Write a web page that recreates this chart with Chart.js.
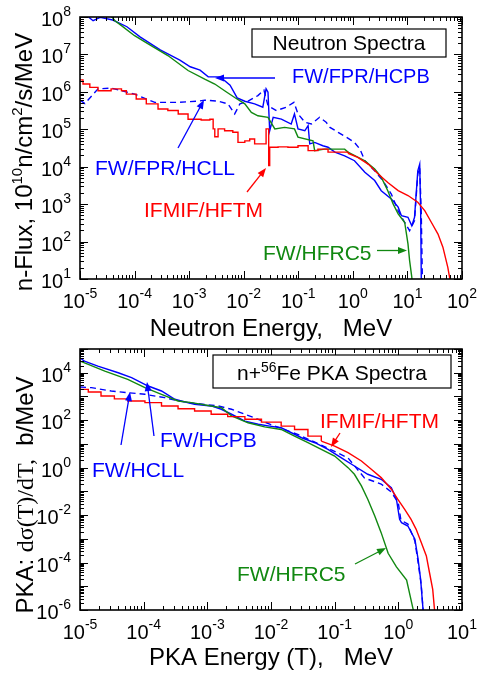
<!DOCTYPE html>
<html>
<head>
<meta charset="utf-8">
<script src="https://cdn.jsdelivr.net/npm/chart.js@4/dist/chart.umd.min.js"></script>
<style>
html, body { margin: 0; padding: 0; background: #fff; }
canvas { display: block; position: absolute; left: 0; }
#neutron { top: 0; }
#pka { top: 330px; }
</style>
</head>
<body>
<canvas id="neutron" width="480" height="346"></canvas>
<canvas id="pka" width="480" height="346"></canvas>
<script>
// values as [log10(energy), log10(value)]
const neutronHCPB = [[-5, 8.05], [-4.87, 8.03], [-4.76, 7.90], [-4.63, 7.99], [-4.40, 7.92], [-4.14, 7.74],
    [-3.90, 7.47], [-3.53, 7.12], [-3.17, 6.85], [-2.98, 6.67], [-2.80, 6.58], [-2.65, 6.40], [-2.43, 6.40],
    [-2.25, 6.18], [-2.12, 5.84], [-1.98, 5.75], [-1.80, 5.68], [-1.65, 5.59], [-1.59, 6.08], [-1.555, 5.99],
    [-1.524, 4.96], [-1.46, 5.32], [-1.31, 5.27], [-1.13, 5.14], [-1.07, 5.41], [-1.005, 5.01], [-0.88, 4.96],
    [-0.82, 5.10], [-0.79, 4.61], [-0.70, 4.65], [-0.55, 4.56], [-0.455, 4.52], [-0.33, 4.39], [-0.15, 4.29],
    [0.03, 4.16], [0.22, 3.85], [0.40, 3.63], [0.52, 3.36], [0.705, 3.14], [0.83, 2.92], [0.89, 2.69],
    [1.01, 2.65], [1.08, 2.42], [1.13, 2.65], [1.19, 3.89], [1.225, 4.07], [1.243, 2.74], [1.254, 1.0], [1.26, 0.5]];
const neutronHCLL = [[-5, 5.78], [-4.91, 5.69], [-4.67, 6.08], [-4.43, 6.10], [-4.00, 5.94], [-3.63, 5.72],
    [-3.20, 5.72], [-2.84, 5.75], [-2.715, 5.78], [-2.47, 5.75], [-2.29, 5.68], [-2.165, 5.41], [-2.07, 5.68],
    [-1.92, 5.75], [-1.74, 5.90], [-1.63, 6.05], [-1.555, 5.63], [-1.40, 5.50], [-1.22, 5.59], [-1.08, 5.72],
    [-1.005, 5.41], [-0.88, 5.19], [-0.76, 5.14], [-0.61, 5.32], [-0.49, 5.19], [-0.42, 5.05], [-0.27, 4.92],
    [-0.12, 4.79], [0.03, 4.65], [0.13, 4.47], [0.22, 4.16], [0.40, 3.89], [0.55, 3.63], [0.705, 3.27],
    [0.83, 2.82], [0.95, 2.51], [1.04, 2.29], [1.13, 2.56], [1.19, 3.81], [1.225, 3.98], [1.254, 2.74],
    [1.273, 1.05], [1.28, 0.5]];
const neutronHFRC5 = [[-5, 8.5], [-4.414, 8.0], [-4.36, 7.90], [-4.24, 7.77], [-4.00, 7.50], [-3.69, 7.23],
    [-3.39, 6.97], [-3.02, 6.57], [-2.715, 6.34], [-2.53, 6.21], [-2.35, 6.03], [-2.165, 5.85], [-1.98, 5.68],
    [-1.86, 5.45], [-1.74, 5.36], [-1.555, 5.32], [-1.43, 5.01], [-1.25, 5.05], [-1.07, 5.01], [-1.005, 4.79],
    [-0.73, 4.69], [-0.70, 4.43], [-0.52, 4.47], [-0.15, 4.47], [-0.09, 4.39], [0.22, 4.16], [0.40, 3.94],
    [0.52, 3.72], [0.64, 3.36], [0.74, 3.00], [0.83, 2.74], [0.95, 2.51], [1.01, 1.94], [1.04, 1.49],
    [1.08, 1.05], [1.10, 0.5]];
const neutronHFTM = [[-5, 6.32], [-4.945, 6.21], [-4.82, 6.12], [-4.67, 6.03], [-4.43, 6.08], [-4.24, 6.03],
    [-4.15, 5.94], [-3.97, 5.81], [-3.785, 5.68], [-3.57, 5.54], [-3.39, 5.50], [-3.20, 5.41], [-3.02, 5.27],
    [-2.78, 5.25], [-2.62, 5.27], [-2.56, 5.01], [-2.53, 4.80], [-2.47, 5.01], [-2.35, 4.96], [-2.20, 4.92],
    [-2.105, 4.65], [-1.98, 4.69], [-1.89, 4.74], [-1.80, 4.61], [-1.59, 5.01], [-1.555, 5.01], [-1.542, 4.03],
    [-1.524, 4.52], [-1.37, 4.53], [-1.19, 4.52], [-1.005, 4.56], [-0.82, 4.43], [-0.64, 4.47], [-0.455, 4.39],
    [-0.27, 4.39], [-0.09, 4.36], [0.09, 4.25], [0.28, 4.07], [0.46, 3.81], [0.64, 3.58], [0.83, 3.36],
    [1.01, 3.23], [1.19, 3.05], [1.32, 2.82], [1.44, 2.51], [1.56, 2.20], [1.65, 1.85], [1.74, 1.31], [1.79, 0.9]];

const pkaHCPB = [[-5, 4.62], [-4.93, 4.49], [-4.72, 4.28], [-4.40, 4.00], [-4.19, 3.79], [-3.93, 3.44],
    [-3.72, 3.23], [-3.51, 2.88], [-3.41, 2.81], [-3.20, 2.67], [-2.94, 2.60], [-2.78, 2.46], [-2.62, 2.25],
    [-2.41, 1.96], [-2.20, 1.83], [-2.02, 1.75], [-1.84, 1.68], [-1.52, 1.26], [-1.31, 1.05], [-1.105, 0.77],
    [-0.90, 0.42], [-0.69, 0.07], [-0.48, -0.28], [-0.27, -0.49], [-0.11, -0.85], [-0.03, -1.33], [0.02, -2.18],
    [0.05, -2.32], [0.15, -2.46], [0.26, -3.02], [0.31, -3.86], [0.35, -4.71], [0.39, -6.04], [0.40, -6.5]];
const pkaHCLL = [[-5, 3.40], [-4.82, 3.37], [-4.51, 3.23], [-4.25, 3.16], [-3.98, 3.09], [-3.67, 2.95],
    [-3.46, 2.81], [-3.20, 2.71], [-2.83, 2.60], [-2.62, 2.46], [-2.41, 2.25], [-2.26, 2.10], [-2.02, 1.83],
    [-1.58, 1.40], [-1.21, 0.95], [-0.79, 0.41], [-0.53, -0.44], [-0.27, -0.69], [-0.11, -1.03], [0.0, -1.49],
    [0.04, -2.21], [0.15, -2.38], [0.26, -3.09], [0.31, -3.98], [0.36, -4.95], [0.39, -6.04], [0.40, -6.5]];
const pkaHFRC5 = [[-5, 4.49], [-4.87, 4.35], [-4.61, 4.07], [-4.25, 3.72], [-3.98, 3.37], [-3.72, 3.09],
    [-3.46, 2.81], [-3.25, 2.74], [-2.94, 2.60], [-2.78, 2.53], [-2.62, 2.18], [-2.36, 1.89], [-2.10, 1.72],
    [-1.84, 1.61], [-1.63, 1.33], [-1.42, 1.05], [-1.21, 0.77], [-1.0, 0.49], [-0.79, 0.0], [-0.69, -0.28],
    [-0.58, -0.77], [-0.48, -1.33], [-0.37, -2.04], [-0.27, -2.74], [-0.16, -3.61], [-0.03, -4.18],
    [0.13, -4.74], [0.235, -6.0], [0.25, -6.5]];
const pkaHFTM = [[-5, 3.30], [-4.87, 3.19], [-4.67, 3.02], [-4.46, 2.90], [-4.25, 2.81], [-3.98, 2.74],
    [-3.72, 2.60], [-3.46, 2.48], [-3.20, 2.39], [-2.94, 2.25], [-2.68, 2.15], [-2.41, 2.04], [-2.15, 1.92],
    [-1.84, 1.75], [-1.63, 1.61], [-1.42, 1.33], [-1.21, 1.12], [-1.0, 0.91], [-0.79, 0.63], [-0.58, 0.28],
    [-0.425, -0.07], [-0.27, -0.42], [-0.11, -0.91], [-0.01, -1.33], [0.10, -1.76], [0.20, -2.18],
    [0.28, -2.60], [0.36, -3.16], [0.44, -3.72], [0.49, -4.43], [0.54, -5.13], [0.57, -6.04], [0.58, -6.5]];

// the red histograms are drawn as steps below these log energies, as a plain line above
const neutronStepEnd = -0.09;
const pkaStepEnd = -1.21;

// decade exponents that get a label
const neutronXExp = [-5, -4, -3, -2, -1, 0, 1, 2];
const neutronYExp = [1, 2, 3, 4, 5, 6, 7, 8];
const pkaXExp = [-5, -4, -3, -2, -1, 0, 1];
const pkaYExp = [-6, -4, -2, 0, 2, 4];

const SANS = '"Liberation Sans", Arial, Helvetica, sans-serif';
const SERIF = '"Liberation Serif", "Times New Roman", serif';
const BLUE = '#0000ff';
const GREEN = '#118811';
const RED = '#ff0000';

function toPoints(pairs) {
    return pairs.map(p => ({x: Math.pow(10, p[0]), y: Math.pow(10, p[1])}));
}

function lineSet(label, pairs, color, dashed, stepped) {
    return {
        label: label,
        data: toPoints(pairs),
        borderColor: color,
        borderWidth: 1.4,
        borderDash: dashed ? [6, 4] : [],
        pointRadius: 0,
        fill: false,
        tension: 0,
        stepped: stepped ? 'before' : false
    };
}

function histSets(label, pairs, cut) {
    return [
        lineSet(label, pairs.filter(p => p[0] <= cut), RED, false, true),
        lineSet(label, pairs.filter(p => p[0] >= cut), RED, false, false)
    ];
}

// parts: [text, size, raise, family]
function drawRich(ctx, parts, x, y, align) {
    let w = 0;
    parts.forEach(p => {
        ctx.font = p[1] + 'px ' + (p[3] || SANS);
        w += ctx.measureText(p[0]).width;
    });
    let cx = align === 'center' ? x - w / 2 : (align === 'right' ? x - w : x);
    ctx.textAlign = 'left';
    ctx.textBaseline = 'alphabetic';
    parts.forEach(p => {
        ctx.font = p[1] + 'px ' + (p[3] || SANS);
        ctx.fillText(p[0], cx, y - (p[2] || 0));
        cx += ctx.measureText(p[0]).width;
    });
}

function pow10(exp) {
    return [['10', 20, 0], [String(exp), 14, 10]];
}

function logTicks(scale) {
    const out = [];
    const e0 = Math.floor(Math.log10(scale.min) + 1e-9);
    const e1 = Math.ceil(Math.log10(scale.max) - 1e-9);
    for (let e = e0; e <= e1; e++) {
        for (let m = 1; m <= 9; m++) {
            const v = m * Math.pow(10, e);
            if (v < scale.min * 0.999 || v > scale.max * 1.001) continue;
            out.push({v: v, len: m === 1 ? 8 : 4});
        }
    }
    return out;
}

function arrow(ctx, a) {
    const [x1, y1, x2, y2] = a.from.concat(a.to);
    const ang = Math.atan2(y2 - y1, x2 - x1);
    ctx.strokeStyle = a.color;
    ctx.fillStyle = a.color;
    ctx.lineWidth = 1.3;
    ctx.beginPath();
    ctx.moveTo(x1, y1);
    ctx.lineTo(x2 - 6 * Math.cos(ang), y2 - 6 * Math.sin(ang));
    ctx.stroke();
    ctx.beginPath();
    ctx.moveTo(x2, y2);
    ctx.lineTo(x2 - 9 * Math.cos(ang) + 3.5 * Math.sin(ang), y2 - 9 * Math.sin(ang) - 3.5 * Math.cos(ang));
    ctx.lineTo(x2 - 9 * Math.cos(ang) - 3.5 * Math.sin(ang), y2 - 9 * Math.sin(ang) + 3.5 * Math.cos(ang));
    ctx.closePath();
    ctx.fill();
}

const framePlugin = {
    id: 'frame',
    afterDraw(chart, args, opts) {
        const {ctx, chartArea: a} = chart;
        const xs = chart.scales.x;
        const ys = chart.scales.y;
        ctx.save();
        ctx.strokeStyle = '#000';
        ctx.lineWidth = 1;
        ctx.beginPath();
        logTicks(xs).forEach(t => {
            const px = Math.round(xs.getPixelForValue(t.v)) + 0.5;
            ctx.moveTo(px, a.bottom); ctx.lineTo(px, a.bottom - t.len);
            ctx.moveTo(px, a.top); ctx.lineTo(px, a.top + t.len);
        });
        logTicks(ys).forEach(t => {
            const py = Math.round(ys.getPixelForValue(t.v)) + 0.5;
            ctx.moveTo(a.left, py); ctx.lineTo(a.left + t.len, py);
            ctx.moveTo(a.right, py); ctx.lineTo(a.right - t.len, py);
        });
        ctx.stroke();
        ctx.lineWidth = 1.6;
        ctx.strokeRect(a.left, a.top, a.right - a.left, a.bottom - a.top);

        ctx.fillStyle = '#000';
        opts.xExp.forEach(e => drawRich(ctx, pow10(e), xs.getPixelForValue(Math.pow(10, e)), a.bottom + 29, 'center'));
        opts.yExp.forEach(e => drawRich(ctx, pow10(e), a.left - 9, ys.getPixelForValue(Math.pow(10, e)) + 9, 'right'));

        drawRich(ctx, opts.xTitle, (a.left + a.right) / 2, opts.xTitleY, 'center');
        ctx.save();
        ctx.translate(opts.yTitleX, opts.yTitleY);
        ctx.rotate(-Math.PI / 2);
        drawRich(ctx, opts.yTitle, 0, 0, 'center');
        ctx.restore();

        const b = opts.box;
        ctx.fillStyle = '#fff';
        ctx.fillRect(b.x1, b.y1, b.x2 - b.x1, b.y2 - b.y1);
        ctx.strokeStyle = '#000';
        ctx.lineWidth = 1.2;
        ctx.strokeRect(b.x1, b.y1, b.x2 - b.x1, b.y2 - b.y1);
        ctx.fillStyle = '#000';
        drawRich(ctx, b.parts, (b.x1 + b.x2) / 2, b.baseline, 'center');

        opts.notes.forEach(n => {
            ctx.fillStyle = n.color;
            drawRich(ctx, [[n.text, n.size || 21, 0]], n.x, n.y, 'left');
            arrow(ctx, n);
        });
        ctx.restore();
    }
};

function baseOptions(xMin, xMax, yMin, yMax, padding, frame) {
    return {
        responsive: false,
        animation: false,
        devicePixelRatio: 1,
        layout: {padding: padding},
        plugins: {legend: {display: false}, tooltip: {enabled: false}, frame: frame},
        scales: {
            x: {type: 'logarithmic', min: xMin, max: xMax, display: false},
            y: {type: 'logarithmic', min: yMin, max: yMax, display: false}
        }
    };
}

new Chart(document.getElementById('neutron'), {
    type: 'line',
    data: {
        datasets: histSets('IFMIF/HFTM', neutronHFTM, neutronStepEnd).concat([
            lineSet('FW/HFRC5', neutronHFRC5, GREEN, false, false),
            lineSet('FW/FPR/HCLL', neutronHCLL, BLUE, true, false),
            lineSet('FW/FPR/HCPB', neutronHCPB, BLUE, false, false)
        ])
    },
    options: baseOptions(1e-5, 1e2, 1e1, 1e8, {left: 80, right: 18, top: 17, bottom: 67}, {
        xExp: neutronXExp,
        yExp: neutronYExp,
        xTitle: [['Neutron Energy,   MeV', 24, 0]],
        xTitleY: 336,
        yTitle: [['n-Flux, 10', 24, 0], ['10', 15, 10], ['n/cm', 24, 0], ['2', 15, 10], ['/s/MeV', 24, 0]],
        yTitleX: 32,
        yTitleY: 162,
        box: {x1: 252, y1: 29, x2: 446, y2: 57, baseline: 50, parts: [['Neutron Spectra', 21, 0]]},
        notes: [
            {text: 'FW/FPR/HCPB', size: 20, color: BLUE, x: 292, y: 83, from: [275, 78], to: [215, 78]},
            {text: 'FW/FPR/HCLL', color: BLUE, x: 95, y: 175, from: [178, 148], to: [204, 100]},
            {text: 'IFMIF/HFTM', color: RED, x: 144, y: 217, from: [247, 192], to: [266, 168]},
            {text: 'FW/HFRC5', color: GREEN, x: 263, y: 260, from: [377, 250.5], to: [407, 250.5]}
        ]
    }),
    plugins: [framePlugin]
});

new Chart(document.getElementById('pka'), {
    type: 'line',
    data: {
        datasets: histSets('IFMIF/HFTM', pkaHFTM, pkaStepEnd).concat([
            lineSet('FW/HFRC5', pkaHFRC5, GREEN, false, false),
            lineSet('FW/HCLL', pkaHCLL, BLUE, true, false),
            lineSet('FW/HCPB', pkaHCPB, BLUE, false, false)
        ])
    },
    options: baseOptions(1e-5, 1e1, 1e-6, 1e5, {left: 80, right: 18, top: 19, bottom: 66}, {
        xExp: pkaXExp,
        yExp: pkaYExp,
        xTitle: [['PKA Energy (T),   MeV', 24, 0]],
        xTitleY: 335,
        yTitle: [['PKA: ', 24, 0], ['d\u03c3(T)/dT,', 24, 0, SERIF], ['  b/MeV', 24, 0]],
        yTitleX: 33,
        yTitleY: 165,
        box: {x1: 213, y1: 25, x2: 451, y2: 58, baseline: 50,
            parts: [['n+', 21, 0], ['56', 14, 8], ['Fe PKA Spectra', 21, 0]]},
        notes: [
            {text: 'IFMIF/HFTM', color: RED, x: 320, y: 98, from: [340, 103], to: [331, 117]},
            {text: 'FW/HCPB', color: BLUE, x: 160, y: 117, from: [154, 106], to: [147, 52]},
            {text: 'FW/HCLL', color: BLUE, x: 92, y: 147, from: [121, 115], to: [130, 62]},
            {text: 'FW/HFRC5', color: GREEN, x: 237, y: 251, from: [355, 234], to: [386, 218]}
        ]
    }),
    plugins: [framePlugin]
});
</script>
</body>
</html>
